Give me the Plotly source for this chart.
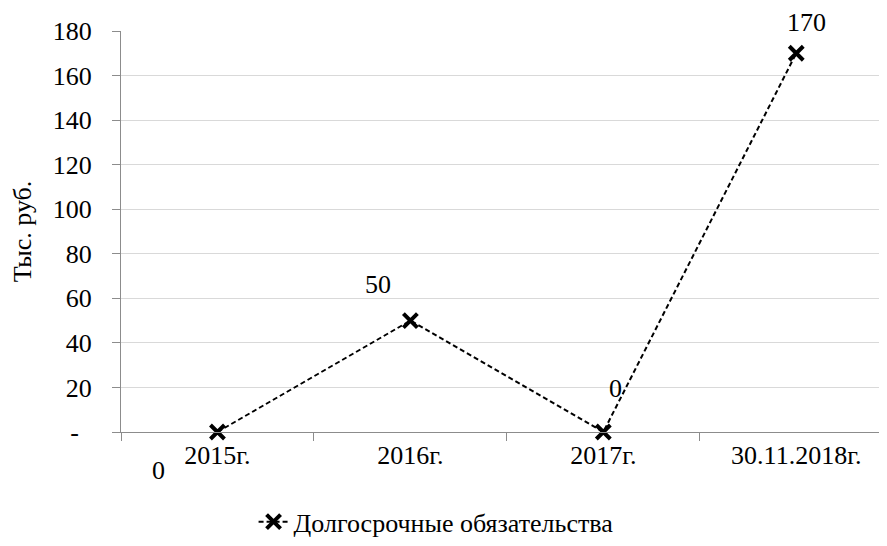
import plotly.graph_objects as go

# ---- data ----
categories = ["2015г.", "2016г.", "2017г.", "30.11.2018г."]
values = [0, 50, 0, 170]
series_name = "Долгосрочные обязательства"
y_title = "Тыс. руб."
y_tickvals = [0, 20, 40, 60, 80, 100, 120, 140, 160, 180]
y_ticktext = ["-\u00a0\u00a0", "20", "40", "60", "80", "100", "120", "140", "160", "180"]

# ---- style ----
FONT = "Liberation Serif"
FS = 26
AXIS_COLOR = "#8c8c8c"
GRID_COLOR = "#d9d9d9"
label_shifts = [(-59, -38), (-32, 36), (12, 44), (10, 31)]

fig = go.Figure()
fig.add_trace(go.Scatter(
    x=categories, y=values, name=series_name,
    mode="lines+markers",
    line=dict(color="black", width=2, dash="5px,3px"),
    marker=dict(symbol="x-thin", size=14, color="black",
                line=dict(color="black", width=4)),
    cliponaxis=False,
))

for c, v, (dx, dy) in zip(categories, values, label_shifts):
    fig.add_annotation(x=c, y=v, xref="x", yref="y", text=str(v),
                       showarrow=False, xshift=dx, yshift=dy,
                       font=dict(family=FONT, size=FS, color="black"))

fig.update_layout(
    width=879, height=538,
    margin=dict(l=113, r=2, t=23, b=114, autoexpand=False),
    paper_bgcolor="white", plot_bgcolor="white",
    font=dict(family=FONT, size=FS, color="black"),
    showlegend=True,
    legend=dict(orientation="h", xref="container", yref="container",
                x=0.487, xanchor="center", y=0.045, yanchor="middle",
                font=dict(family=FONT, size=FS, color="black"),
                bgcolor="rgba(0,0,0,0)"),
    xaxis=dict(type="category", range=[-0.5, 3.46], showline=True,
               linecolor=AXIS_COLOR, linewidth=1, showgrid=False,
               ticks="outside", tickson="boundaries", ticklen=8,
               tickcolor=AXIS_COLOR, automargin=False,
               tickfont=dict(family=FONT, size=FS, color="black")),
    yaxis=dict(range=[0, 180], tickvals=y_tickvals, ticktext=y_ticktext,
               showline=True, linecolor=AXIS_COLOR, linewidth=1,
               showgrid=True, gridcolor=GRID_COLOR, gridwidth=1,
               zeroline=False, ticks="outside", ticklen=8,
               tickcolor=AXIS_COLOR, ticklabelstandoff=15,
               automargin=False,
               title=dict(text=y_title, standoff=20,
                          font=dict(family=FONT, size=FS, color="black")),
               tickfont=dict(family=FONT, size=FS, color="black")),
)

fig.write_html("out.html")
